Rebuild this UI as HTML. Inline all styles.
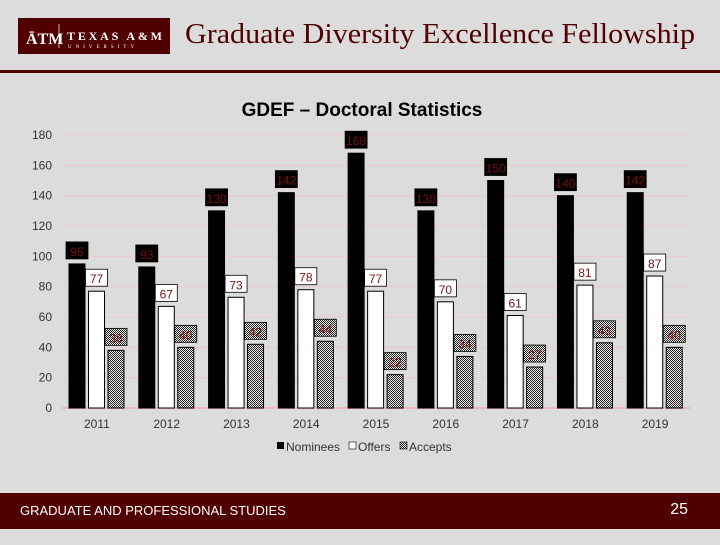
<!DOCTYPE html>
<html><head><meta charset="utf-8"><style>
body{margin:0;width:720px;height:540px;background:#dcdcdc;overflow:hidden;font-family:"Liberation Sans",sans-serif;}
</style></head><body>
<svg width="720" height="540" xmlns="http://www.w3.org/2000/svg">
<defs>
<pattern id="hatch" width="2" height="2" patternUnits="userSpaceOnUse"><rect width="2" height="2" fill="#eee"/><rect width="1" height="1" fill="#222"/><rect x="1" y="1" width="1" height="1" fill="#222"/></pattern>
</defs>
<g>
<rect x="18" y="18" width="152" height="36" fill="#500000"/>
<text x="26" y="44" font-family="Liberation Serif,serif" font-size="16" font-weight="bold" fill="#fff">ĀTM</text>
<line x1="59" y1="24" x2="59" y2="48" stroke="#fff" stroke-width="0.7"/>
<text x="67" y="40" font-family="Liberation Serif,serif" font-size="12" font-weight="bold" fill="#fff" textLength="95">TEXAS A&amp;M</text>
<text x="68" y="48" font-family="Liberation Serif,serif" font-size="5" letter-spacing="4" fill="#fff">UNIVERSITY</text>
<text x="185" y="43" font-family="Liberation Serif,serif" font-size="29" fill="#500000" textLength="510" lengthAdjust="spacingAndGlyphs">Graduate Diversity Excellence Fellowship</text>
<rect x="0" y="70" width="720" height="3" fill="#500000"/>
</g>
<text x="362" y="116" text-anchor="middle" font-size="19" font-weight="bold" fill="#000">GDEF – Doctoral Statistics</text>
<g id="chart"></g>
<g font-size="12" fill="#333">
<rect x="277" y="442" width="7" height="7" fill="#000"/><text x="286" y="451">Nominees</text>
<rect x="349" y="442" width="7" height="7" fill="#fff" stroke="#000" stroke-width="0.6"/><text x="358" y="451">Offers</text>
<rect x="400" y="442" width="7" height="7" fill="url(#hatch)" stroke="#000" stroke-width="0.6"/><text x="409" y="451">Accepts</text>
</g>
<g>
<rect x="0" y="493" width="720" height="36" fill="#500000"/>
<text x="20" y="515" font-size="13" fill="#fff">GRADUATE AND PROFESSIONAL STUDIES</text>
<text x="688" y="514" text-anchor="end" font-size="16" fill="#fff">25</text>
</g>
</svg>
<script>
const years=["2011","2012","2013","2014","2015","2016","2017","2018","2019"];
const nominees=[95,93,130,142,168,130,150,140,142];
const offers=[77,67,73,78,77,70,61,81,87];
const accepts=[38,40,42,44,22,34,27,43,40];
const yTicks=[0,20,40,60,80,100,120,140,160,180];
const NS="http://www.w3.org/2000/svg";
const g=document.getElementById('chart');
const x0=62,x1=690,y0=408,yTop=135,yMax=180;
const yS=v=>y0-(y0-yTop)*v/yMax;
const gw=(x1-x0)/years.length;
function mk(t,a,p){const e=document.createElementNS(NS,t);for(const k in a)e.setAttribute(k,a[k]);(p||g).appendChild(e);return e;}
yTicks.forEach(v=>{
 const l=mk('line',{x1:x0,x2:x1,y1:yS(v),y2:yS(v),stroke:v===0?'#f0b8b8':'#efc8c8','stroke-width':v===0?2:1});
 
 
 const t=mk('text',{x:52,y:yS(v)+4,'text-anchor':'end','font-size':12,fill:'#333'});t.textContent=v;
 
 
});
const series=[[nominees,'#000','#000','#000','#7a1010','nominees'],[offers,'#fff','#000','#fff','#7a1010','offers'],[accepts,'url(#hatch)','#000','url(#hatch)','#7a1010','accepts']];
years.forEach((yr,i)=>{
 const gx=x0+i*gw;
 series.forEach((s,j)=>{
  const v=s[0][i],bx=gx+7+j*19.5,bw=16,by=yS(v);
  const r=mk('rect',{x:bx,y:by,width:bw,height:y0-by,fill:s[1],stroke:s[2],'stroke-width':1});
  
  
  const lb=mk('rect',{x:bx-3,y:by-22,width:22,height:17,fill:s[3],stroke:s[2],'stroke-width':0.8});
  
  
  const t=mk('text',{x:bx+8,y:by-8,'text-anchor':'middle','font-size':12,fill:s[4]});t.textContent=v;
  
  
 });
 const t=mk('text',{x:gx+gw/2,y:428,'text-anchor':'middle','font-size':12,fill:'#333'});t.textContent=yr;
 
 
});
</script>
</body></html>
